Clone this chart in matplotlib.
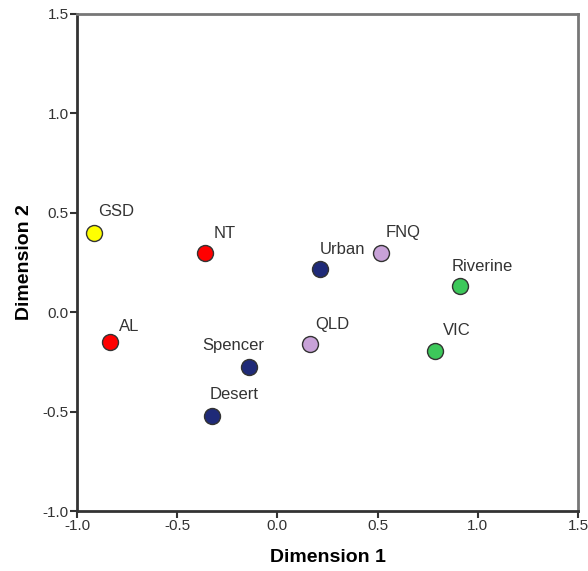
import matplotlib.pyplot as plt

plt.rcParams['font.family'] = ['Liberation Sans', 'DejaVu Sans']

names = ['GSD', 'NT', 'AL', 'Spencer', 'Desert', 'Urban', 'FNQ', 'Riverine', 'QLD', 'VIC']
dim1 = [-0.915, -0.36, -0.837, -0.14, -0.327, 0.213, 0.518, 0.91, 0.163, 0.785]
dim2 = [0.40, 0.30, -0.152, -0.278, -0.52, 0.215, 0.30, 0.13, -0.16, -0.196]
colors = ['#ffff00', '#ff0000', '#ff0000', '#1f2a78', '#1f2a78', '#1f2a78',
          '#c8a2d8', '#3cc85a', '#c8a2d8', '#3cc85a']
# label offsets in points (dx to left edge, dy to text centre) from the marker centre
offsets = {'GSD': (2.9, 15.1), 'NT': (5.8, 13.7), 'AL': (6.5, 11.5),
           'Spencer': (-34, 15.8), 'Desert': (-1.4, 15.5), 'Urban': (0, 14.4),
           'FNQ': (2.9, 14.4), 'Riverine': (-5.8, 14.4), 'QLD': (3.6, 14.4),
           'VIC': (5.8, 14.8)}

fig = plt.figure(figsize=(5.88, 5.71), dpi=100)
ax = fig.add_axes([0.131, 0.105, 0.852, 0.8705])

for x, y, c, n in zip(dim1, dim2, colors, names):
    ax.plot(x, y, 'o', ms=11.5, mfc=c, mec='#333333', mew=1.0, zorder=3)
    dx, dy = offsets[n]
    ax.annotate(n, (x, y), xytext=(dx, dy), textcoords='offset points',
                fontsize=12, color='#333333', ha='left', va='center')

ax.set_xlim(-1.0, 1.5)
ax.set_ylim(-1.0, 1.5)
ax.set_xticks([-1.0, -0.5, 0.0, 0.5, 1.0, 1.5])
ax.set_yticks([-1.0, -0.5, 0.0, 0.5, 1.0, 1.5])
ax.xaxis.set_major_formatter(plt.FormatStrFormatter('%.1f'))
ax.yaxis.set_major_formatter(plt.FormatStrFormatter('%.1f'))
ax.tick_params(direction='out', length=5, width=1.5, color='#333333',
               labelsize=11, labelcolor='#333333', pad=1)

for side in ['left', 'bottom']:
    ax.spines[side].set_linewidth(2)
    ax.spines[side].set_color('#333333')
for side in ['top', 'right']:
    ax.spines[side].set_linewidth(2)
    ax.spines[side].set_color('#777777')

ax.set_xlabel('Dimension 1', fontsize=14, fontweight='bold', labelpad=11)
ax.set_ylabel('Dimension 2', fontsize=14, fontweight='bold', labelpad=7)

fig.savefig('out.png', dpi=100)
